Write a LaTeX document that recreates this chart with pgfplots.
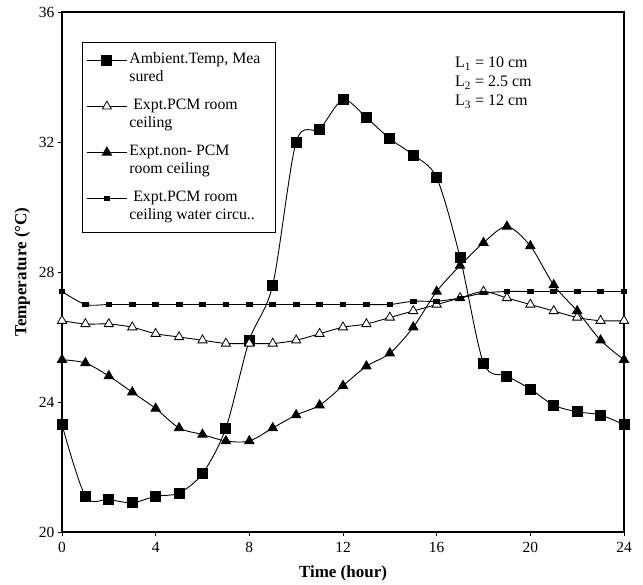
\documentclass[border=0pt]{standalone}
\usepackage{fontspec}
\setmainfont{Liberation Serif}
\usepackage{pgfplots}
\pgfplotsset{compat=1.18}
\newcommand{\legtwo}[2]{\parbox[t]{140pt}{\strut #1\strut\newline\strut #2\strut}}
\begin{document}
\begin{tikzpicture}
\begin{axis}[
  scale only axis,
  width=562pt, height=520pt,
  xmin=0, xmax=24, ymin=20, ymax=36,
  xtick={0,4,...,24}, ytick={20,24,...,36},
  tick align=outside,
  xtick pos=bottom, ytick pos=left,
  major tick length=4pt,
  axis line style={line width=1.1pt},
  tick style={line width=0.8pt, black},
  /pgf/number format/assume math mode=true,
  tick label style={font=\fontsize{15.5}{17}\selectfont},
  xticklabel style={yshift=-3pt},
  xlabel={\textbf{Time (hour)}},
  ylabel={\textbf{Temperature (°C)}},
  label style={font=\fontsize{17}{19}\selectfont},
  xlabel style={yshift=-6pt},
  ylabel style={yshift=2pt},
  every axis plot/.append style={line width=0.9pt, black, smooth, tension=0.5},
  legend image code/.code={\draw[mark repeat=2,mark phase=2,#1] plot coordinates {(0pt,8pt) (20pt,8pt) (40pt,8pt)};},
  legend style={at={(0.0356,0.9423)}, anchor=north west, draw=black, line width=0.9pt,
    font=\fontsize{15.8}{18}\selectfont, inner xsep=4pt, inner ysep=6pt,
    row sep=6pt, nodes={text depth=},
    cells={anchor=base west}},
  legend cell align=left,
]
\addplot[mark=square*, mark size=5pt, mark options={solid, fill=black}] coordinates {
(0,23.3) (1,21.1) (2,21.0) (3,20.9) (4,21.1) (5,21.2) (6,21.8) (7,23.2) (8,25.9) (9,27.6)
(10,32.0) (11,32.4) (12,33.3) (13,32.75) (14,32.1) (15,31.6) (16,30.9) (17,28.45) (18,25.2)
(19,24.8) (20,24.4) (21,23.9) (22,23.7) (23,23.6) (24,23.3)};
\addlegendentry{\legtwo{Ambient.Temp, Mea}{sured}}
\addplot[mark=triangle*, mark size=5.3pt, mark options={solid, fill=white, line width=0.8pt}] coordinates {
(0,26.5) (1,26.4) (2,26.4) (3,26.3) (4,26.1) (5,26.0) (6,25.9) (7,25.8) (8,25.8) (9,25.8)
(10,25.9) (11,26.1) (12,26.3) (13,26.4) (14,26.6) (15,26.8) (16,27.0) (17,27.2) (18,27.4)
(19,27.2) (20,27.0) (21,26.8) (22,26.6) (23,26.5) (24,26.5)};
\addlegendentry{\legtwo{\ Expt.PCM room}{ceiling}}
\addplot[mark=triangle*, mark size=5.3pt, mark options={solid, fill=black}] coordinates {
(0,25.3) (1,25.2) (2,24.8) (3,24.3) (4,23.8) (5,23.2) (6,23.0) (7,22.8) (8,22.8) (9,23.2)
(10,23.6) (11,23.9) (12,24.5) (13,25.1) (14,25.5) (15,26.3) (16,27.4) (17,28.2) (18,28.9)
(19,29.4) (20,28.8) (21,27.6) (22,26.8) (23,25.9) (24,25.3)};
\addlegendentry{\legtwo{Expt.non- PCM}{room ceiling}}
\addplot[mark=square*, mark size=1.8pt, mark options={solid, fill=black, xscale=1.6}] coordinates {
(0,27.4) (1,27.0) (2,27.0) (3,27.0) (4,27.0) (5,27.0) (6,27.0) (7,27.0) (8,27.0) (9,27.0)
(10,27.0) (11,27.0) (12,27.0) (13,27.0) (14,27.0) (15,27.1) (16,27.1) (17,27.2) (18,27.35)
(19,27.4) (20,27.4) (21,27.4) (22,27.4) (23,27.4) (24,27.4)};
\addlegendentry{\legtwo{\ Expt.PCM room}{ceiling water circu..}}
\node[anchor=north west, align=left, font=\fontsize{16}{19}\selectfont, inner sep=0pt]
  at (axis cs:16.78,34.62) {L\textsubscript{1} = 10 cm\\L\textsubscript{2} = 2.5 cm\\L\textsubscript{3} = 12 cm};
\end{axis}
\pgfresetboundingbox
\path[use as bounding box] (-62pt,-53pt) rectangle (581pt,532pt);
\end{tikzpicture}
\end{document}
